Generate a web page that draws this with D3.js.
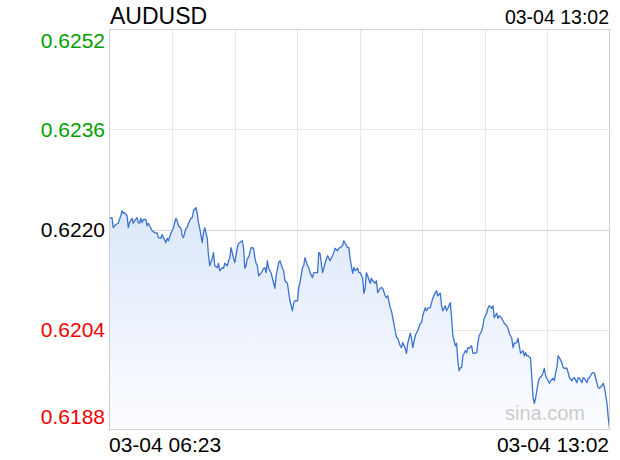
<!DOCTYPE html>
<html>
<head>
<meta charset="utf-8">
<script src="https://cdn.jsdelivr.net/npm/d3@7/dist/d3.min.js"></script>
<style>
  html, body { margin: 0; padding: 0; background: #fff; }
  svg { display: block; font-family: "Liberation Sans", Arial, Helvetica, sans-serif; }
</style>
</head>
<body>
<svg id="chart" width="620" height="460"></svg>
<script>
const symbol = "AUDUSD";
const startLabel = "03-04 06:23";
const endLabel = "03-04 13:02";
const totalMinutes = 399;
const yTickValues = [0.6252, 0.6236, 0.6220, 0.6204, 0.6188];
const yTickLabels = ["0.6252", "0.6236", "0.6220", "0.6204", "0.6188"];
const prevClose = 0.6220;
const watermark = "sina.com";

const minutes = [
  0,2,3,5,7,9,10,11,12,14,15,16,18,19,20,22,23,24,25,26,27,29,30,31,33,34,36,38,39,41,
  42,43,45,46,47,49,50,51,53,54,55,57,58,59,61,62,63,65,66,67,69,70,71,72,74,75,76,78,79,80,
  82,83,84,86,87,88,90,91,92,94,95,96,97,99,100,102,103,104,106,107,108,109,110,111,113,115,116,117,118,119,
  121,123,124,125,126,127,129,131,132,133,135,136,138,139,140,142,143,144,146,147,148,150,151,152,154,155,156,158,159,160,
  162,163,164,166,167,168,170,171,172,174,175,176,178,179,180,182,183,184,186,187,188,190,191,192,194,195,196,198,199,200,
  202,203,204,205,206,208,209,210,212,213,214,216,217,218,220,221,222,224,225,226,228,229,230,232,233,234,236,237,238,240,
  241,242,244,245,246,248,249,250,252,253,254,256,257,258,260,261,262,264,265,266,268,269,270,272,273,274,276,277,278,279,
  280,281,282,284,285,286,287,289,290,291,293,294,295,297,298,299,301,302,303,305,306,307,309,310,311,313,314,315,317,318,
  319,321,322,323,325,326,327,328,330,331,332,333,334,336,337,338,339,340,341,342,343,345,346,347,348,350,351,352,354,355,
  356,357,358,359,361,362,363,365,366,367,369,370,371,373,374,375,377,378,379,381,382,383,385,386,387,389,390,391,393,394,
  395,397,398,399
];

const prices = [
  0.62218,0.62219,0.62203,0.62208,0.62210,0.62222,0.62230,0.62226,0.62227,0.62222,0.62203,0.62211,0.62218,0.62210,0.62214,0.62219,0.62211,0.62210,0.62218,0.62211,0.62216,0.62216,0.62206,0.62210,0.62202,0.62198,0.62195,0.62194,0.62187,0.62186,
  0.62192,0.62187,0.62179,0.62186,0.62182,0.62194,0.62198,0.62203,0.62218,0.62214,0.62206,0.62202,0.62190,0.62187,0.62202,0.62203,0.62210,0.62218,0.62219,0.62230,0.62235,0.62226,0.62211,0.62202,0.62179,0.62195,0.62203,0.62186,0.62158,0.62142,
  0.62154,0.62163,0.62142,0.62139,0.62146,0.62134,0.62139,0.62138,0.62146,0.62142,0.62150,0.62155,0.62171,0.62154,0.62147,0.62171,0.62178,0.62179,0.62182,0.62170,0.62138,0.62142,0.62154,0.62155,0.62171,0.62170,0.62155,0.62146,0.62142,0.62126,
  0.62130,0.62138,0.62139,0.62131,0.62150,0.62138,0.62130,0.62114,0.62106,0.62126,0.62147,0.62150,0.62138,0.62134,0.62118,0.62114,0.62099,0.62086,0.62070,0.62083,0.62086,0.62086,0.62107,0.62115,0.62139,0.62142,0.62155,0.62142,0.62139,0.62131,
  0.62123,0.62131,0.62131,0.62131,0.62163,0.62162,0.62131,0.62138,0.62146,0.62158,0.62154,0.62150,0.62158,0.62163,0.62170,0.62166,0.62170,0.62171,0.62174,0.62182,0.62178,0.62171,0.62171,0.62154,0.62130,0.62139,0.62134,0.62138,0.62131,0.62131,
  0.62122,0.62098,0.62106,0.62131,0.62126,0.62114,0.62122,0.62118,0.62114,0.62118,0.62099,0.62106,0.62107,0.62106,0.62094,0.62091,0.62094,0.62075,0.62070,0.62059,0.62038,0.62027,0.62026,0.62014,0.62011,0.62019,0.62010,0.62002,0.62018,0.62034,
  0.62026,0.62011,0.62030,0.62035,0.62038,0.62050,0.62051,0.62062,0.62075,0.62070,0.62074,0.62075,0.62083,0.62090,0.62099,0.62102,0.62094,0.62098,0.62078,0.62070,0.62078,0.62070,0.62074,0.62083,0.62058,0.62030,0.62014,0.62018,0.61990,0.61974,
  0.61979,0.61979,0.61998,0.62006,0.62003,0.62011,0.62010,0.62014,0.62002,0.62002,0.62003,0.62019,0.62030,0.62038,0.62046,0.62058,0.62066,0.62074,0.62078,0.62074,0.62078,0.62059,0.62066,0.62058,0.62062,0.62058,0.62054,0.62050,0.62046,0.62042,
  0.62034,0.62026,0.62011,0.62018,0.62019,0.62026,0.62014,0.62002,0.62006,0.61998,0.62003,0.61998,0.61998,0.61994,0.61963,0.61931,0.61922,0.61930,0.61942,0.61954,0.61962,0.61966,0.61971,0.61978,0.61966,0.61958,0.61954,0.61958,0.61962,0.61958,
  0.61971,0.61979,0.61998,0.61995,0.61987,0.61979,0.61978,0.61978,0.61971,0.61963,0.61958,0.61962,0.61963,0.61955,0.61963,0.61962,0.61955,0.61963,0.61962,0.61955,0.61962,0.61963,0.61970,0.61971,0.61970,0.61954,0.61947,0.61946,0.61950,0.61954,
  0.61947,0.61922,0.61899,0.61882
];

const n = Math.min(minutes.length, prices.length);
const data = d3.range(n).map(i => ({ m: minutes[i], v: prices[i] }));

const svg = d3.select("#chart");
const pLeft = 109.5, pRight = 609.5, pTop = 29.5, pBottom = 429.5;

const x = d3.scaleLinear().domain([0, totalMinutes]).range([pLeft, pRight]);
const y = d3.scaleLinear().domain([0.6188, 0.6252]).range([pBottom, pTop]);

// gradient
const defs = svg.append("defs");
const grad = defs.append("linearGradient")
  .attr("id", "areaGrad")
  .attr("gradientUnits", "userSpaceOnUse")
  .attr("x1", 0).attr("x2", 0)
  .attr("y1", y(d3.max(prices))).attr("y2", pBottom);
grad.append("stop").attr("offset", "0%").attr("stop-color", "#dbe7fa");
grad.append("stop").attr("offset", "100%").attr("stop-color", "#fcfdff");

// vertical grid lines
const xGrid = d3.range(1, 8).map(i => i * totalMinutes / 8);
svg.append("g").selectAll("line").data(xGrid).join("line")
  .attr("x1", d => Math.round(x(d)) + 0.5).attr("x2", d => Math.round(x(d)) + 0.5)
  .attr("y1", pTop).attr("y2", pBottom)
  .attr("stroke", "#cfcfcf").attr("stroke-width", 1)
  .attr("stroke-dasharray", "1,1");

// horizontal grid lines
const yGrid = [0.6236, 0.6220, 0.6204];
svg.append("g").selectAll("line").data(yGrid).join("line")
  .attr("x1", pLeft).attr("x2", pRight)
  .attr("y1", d => Math.round(y(d)) + 0.5).attr("y2", d => Math.round(y(d)) + 0.5)
  .attr("stroke", d => d === prevClose ? "#aaaaaa" : "#cfcfcf")
  .attr("stroke-width", 1)
  .attr("stroke-dasharray", "1,1");

// area
const area = d3.area().x(d => x(d.m)).y0(pBottom).y1(d => y(d.v));
svg.append("path").datum(data).attr("d", area).attr("fill", "url(#areaGrad)");

// line
const line = d3.line().x(d => x(d.m)).y(d => y(d.v));
svg.append("path").datum(data).attr("d", line)
  .attr("fill", "none").attr("stroke", "#3b72cf").attr("stroke-width", 1.3)
  .attr("stroke-linejoin", "round");

// frame
svg.append("rect").attr("x", pLeft).attr("y", pTop)
  .attr("width", pRight - pLeft).attr("height", pBottom - pTop)
  .attr("fill", "none").attr("stroke", "#d0d0d0").attr("stroke-width", 1);

// watermark
svg.append("text").attr("x", 585).attr("y", 420).attr("text-anchor", "end")
  .attr("font-size", 20).attr("fill", "#cccccc").text(watermark);

// y labels
svg.append("g").selectAll("text").data(yTickValues).join("text")
  .attr("x", 105)
  .attr("y", (d, i) => {
    if (i === 0) return y(d) + 18;
    if (i === yTickValues.length - 1) return y(d) - 6;
    return y(d) + 7.5;
  })
  .attr("text-anchor", "end")
  .attr("font-size", 21)
  .attr("fill", d => d > prevClose ? "#00a000" : (d < prevClose ? "#f00000" : "#000"))
  .text((d, i) => yTickLabels[i]);

// title
svg.append("text").attr("x", 110).attr("y", 24).attr("font-size", 23)
  .attr("fill", "#000").text(symbol);
svg.append("text").attr("x", 609).attr("y", 24).attr("text-anchor", "end")
  .attr("font-size", 19.5).attr("fill", "#000").text(endLabel);

// bottom time labels
svg.append("text").attr("x", 109).attr("y", 452).attr("font-size", 21)
  .attr("fill", "#000").text(startLabel);
svg.append("text").attr("x", 609).attr("y", 452).attr("text-anchor", "end")
  .attr("font-size", 21).attr("fill", "#000").text(endLabel);
</script>
</body>
</html>
